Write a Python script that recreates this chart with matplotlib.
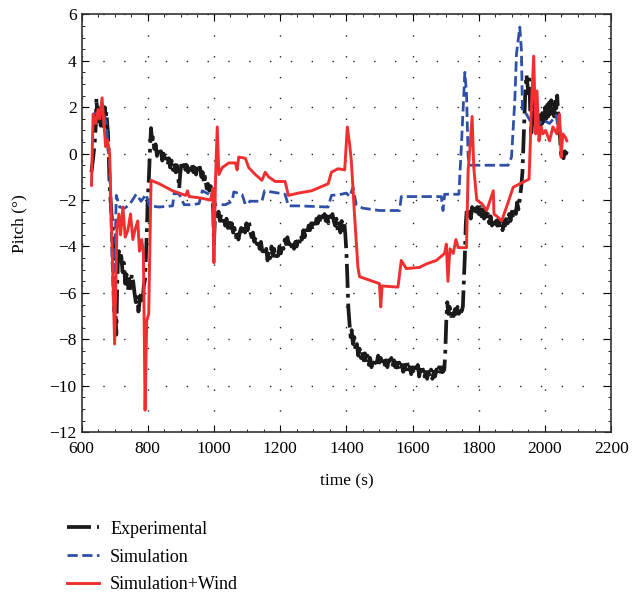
import matplotlib
matplotlib.use("Agg")
import matplotlib.pyplot as plt
from matplotlib.ticker import MultipleLocator

# experimental pitch (noisy record)
exp_time = [630, 635, 640, 643, 645, 648, 650, 653, 655, 658, 660, 663, 665, 668, 670, 673, 675, 678, 680, 683,
            685, 690, 695, 700, 705, 708, 710, 713, 716, 720, 724, 728, 732, 736, 740, 744, 748, 752, 756, 760,
            764, 768, 772, 776, 780, 784, 788, 792, 797, 800, 803, 807, 810, 813, 816, 820, 824, 828, 832, 836,
            840, 844, 848, 852, 856, 860, 864, 868, 872, 876, 880, 884, 888, 892, 895, 898, 902, 906, 910, 914,
            918, 922, 926, 930, 934, 938, 942, 946, 950, 954, 958, 962, 966, 970, 974, 978, 982, 986, 990, 995,
            998, 1000, 1003, 1006, 1010, 1014, 1018, 1022, 1026, 1030, 1034, 1038, 1042, 1046, 1050, 1054, 1058, 1062, 1066, 1070,
            1074, 1078, 1082, 1086, 1090, 1094, 1098, 1102, 1106, 1110, 1114, 1118, 1122, 1126, 1130, 1134, 1138, 1142, 1146, 1150,
            1154, 1158, 1162, 1166, 1170, 1174, 1178, 1182, 1186, 1190, 1194, 1198, 1202, 1206, 1210, 1214, 1218, 1222, 1226, 1230,
            1234, 1238, 1242, 1246, 1250, 1254, 1258, 1262, 1266, 1270, 1274, 1278, 1282, 1286, 1290, 1294, 1298, 1302, 1306, 1310,
            1314, 1318, 1322, 1326, 1330, 1334, 1338, 1342, 1346, 1350, 1354, 1358, 1362, 1366, 1370, 1374, 1378, 1382, 1386, 1390,
            1394, 1397, 1400, 1403, 1406, 1410, 1413, 1416, 1420, 1424, 1428, 1432, 1436, 1440, 1444, 1448, 1452, 1456, 1460, 1464,
            1468, 1472, 1476, 1480, 1484, 1488, 1492, 1496, 1500, 1504, 1508, 1512, 1516, 1520, 1524, 1528, 1532, 1536, 1540, 1544,
            1548, 1552, 1556, 1560, 1564, 1568, 1572, 1576, 1580, 1584, 1588, 1592, 1596, 1600, 1604, 1608, 1612, 1616, 1620, 1624,
            1628, 1632, 1636, 1640, 1644, 1648, 1652, 1656, 1660, 1664, 1668, 1672, 1676, 1680, 1684, 1688, 1692, 1696, 1699, 1702,
            1705, 1708, 1712, 1716, 1720, 1724, 1728, 1732, 1736, 1740, 1744, 1748, 1752, 1755, 1758, 1761, 1764, 1768, 1772, 1776,
            1780, 1784, 1788, 1792, 1796, 1800, 1804, 1808, 1812, 1816, 1820, 1824, 1828, 1832, 1836, 1840, 1844, 1848, 1852, 1856,
            1860, 1864, 1868, 1872, 1876, 1880, 1884, 1888, 1892, 1896, 1900, 1904, 1908, 1912, 1916, 1920, 1924, 1928, 1932, 1936,
            1940, 1944, 1947, 1950, 1953, 1956, 1959, 1962, 1965, 1968, 1971, 1974, 1977, 1980, 1983, 1986, 1989, 1992, 1995, 1998,
            2001, 2004, 2007, 2010, 2013, 2016, 2019, 2022, 2025, 2028, 2031, 2034, 2037, 2040, 2043, 2046, 2049, 2052, 2056, 2060,
            2064, 2066]
exp_pitch = [-0.8, -0.2, 0.5, 1.2, 2.4, 1.6, 2.1, 1.4, 1.7, 1.2, 2.0, 1.3, 1.6, 1.1, 2.0, 1.5, 1.8, 1.2, 0.9, -0.5,
             -1.4, -2.5, -3.4, -5.5, -7.8, -5.5, -4.6, -4.2, -4.8, -4.4, -5.1, -4.7, -5.6, -5.2, -5.9, -5.4, -5.8, -5.2, -5.5, -6.0,
             -6.4, -6.1, -6.8, -6.3, -6.0, -6.5, -5.7, -5.4, -3.5, -2.0, -1.2, 0.2, 1.1, 0.5, 0.7, 0.2, 0.4, -0.1, 0.2, -0.1,
             0.1, -0.3, 0.0, -0.4, -0.2, -0.5, -0.2, -0.6, -0.3, -0.7, -0.4, -0.8, -0.5, -1.0, -1.5, -0.9, -0.4, -0.6, -0.3, -0.7,
             -0.5, -0.8, -0.5, -0.7, -0.4, -0.8, -0.6, -0.9, -0.5, -0.8, -0.6, -1.0, -0.8, -1.3, -1.0, -1.5, -1.3, -1.6, -1.4, -1.7,
             -2.5, -3.9, -2.8, -2.4, -2.7, -2.5, -2.9, -2.6, -2.9, -2.7, -3.1, -2.8, -3.2, -2.9, -3.3, -3.0, -3.4, -3.2, -3.6, -3.3,
             -3.7, -3.4, -3.2, -3.5, -3.1, -3.4, -3.0, -3.3, -2.9, -3.4, -3.6, -3.4, -3.8, -3.6, -3.9, -3.7, -4.1, -3.8, -4.2, -4.0,
             -4.4, -4.1, -4.6, -4.2, -4.5, -4.0, -4.4, -4.1, -4.5, -4.2, -4.4, -4.0, -4.3, -3.9, -4.1, -3.7, -3.9, -3.6, -3.9, -3.7,
             -4.0, -3.8, -4.1, -3.8, -4.0, -3.7, -3.9, -3.5, -3.7, -3.3, -3.6, -3.2, -3.5, -3.1, -3.3, -3.0, -3.3, -2.9, -3.1, -2.8,
             -3.0, -2.7, -3.0, -2.7, -2.9, -2.6, -2.9, -2.7, -3.0, -2.7, -2.9, -2.6, -2.9, -3.1, -2.8, -3.3, -3.0, -3.4, -2.9, -3.3,
             -3.0, -3.5, -4.2, -5.3, -6.6, -7.4, -7.9, -7.6, -8.2, -7.9, -8.5, -8.2, -8.7, -8.4, -8.8, -8.5, -8.9, -8.6, -9.0, -8.7,
             -9.1, -8.8, -9.2, -8.9, -9.1, -8.8, -9.0, -8.7, -9.0, -8.8, -9.1, -8.8, -9.1, -8.9, -9.2, -8.9, -9.1, -8.8, -9.1, -8.9,
             -9.2, -9.0, -9.3, -9.0, -9.3, -9.1, -9.4, -9.1, -9.3, -9.0, -9.4, -9.2, -9.5, -9.2, -9.5, -9.2, -9.4, -9.1, -9.6, -9.3,
             -9.5, -9.3, -9.6, -9.4, -9.7, -9.4, -9.6, -9.3, -9.7, -9.4, -9.6, -9.3, -9.5, -9.2, -9.5, -9.2, -9.4, -9.3, -8.5, -7.2,
             -6.4, -6.9, -6.6, -7.0, -6.7, -7.0, -6.7, -6.9, -6.6, -6.9, -6.6, -6.8, -6.6, -5.5, -4.4, -3.0, -2.4, -2.8, -2.5, -2.8,
             -2.3, -2.6, -2.2, -2.5, -2.3, -2.6, -2.3, -2.7, -2.4, -2.8, -2.5, -2.9, -2.6, -3.0, -2.7, -3.1, -2.8, -3.2, -2.9, -3.1,
             -2.8, -3.2, -2.9, -3.3, -2.9, -3.1, -2.7, -3.0, -2.6, -2.9, -2.5, -2.8, -2.3, -2.6, -2.1, -2.4, -1.9, -1.5, -0.8, 0.8,
             2.4, 3.4, 3.0, 2.6, 3.2, 1.6, 0.9, 1.4, 2.1, 1.7, 2.5, 1.9, 1.3, 1.0, 1.5, 1.1, 1.7, 1.3, 1.9, 1.4,
             2.0, 1.5, 2.1, 1.6, 2.2, 1.7, 2.3, 1.8, 2.1, 1.6, 2.4, 1.9, 2.5, 1.7, 1.2, 0.6, -0.1, 0.0, -0.2, 0.1,
             0.0, 0.1]

# simulation without wind
sim_time = [635, 665, 675, 685, 691, 697, 705, 715, 730, 745, 765, 780, 795, 805, 835, 875, 880, 895, 910, 935,
            955, 965, 985, 1000, 1005, 1035, 1055, 1060, 1085, 1095, 1110, 1145, 1153, 1215, 1225, 1255, 1345, 1355, 1385, 1400,
            1410, 1420, 1430, 1450, 1500, 1561, 1566, 1632, 1687, 1692, 1697, 1740, 1748, 1758, 1763, 1768, 1773, 1824, 1889, 1899,
            1909, 1914, 1924, 1929, 1932, 1944, 1954, 1974, 1994, 2014, 2034, 2039]
sim_pitch = [1.7, 1.85, 1.3, -0.6, -4.0, -6.8, -1.8, -2.3, -2.35, -2.2, -1.75, -2.05, -1.75, -2.25, -2.3, -2.25, -1.7, -1.75, -2.2, -2.2,
             -2.15, -1.6, -1.75, -1.9, -2.2, -2.2, -2.05, -1.65, -1.75, -2.2, -2.05, -2.05, -1.6, -1.75, -2.25, -2.25, -2.3, -1.8, -1.75, -1.7,
             -1.85, -1.45, -2.2, -2.35, -2.45, -2.45, -1.85, -1.85, -1.85, -2.45, -1.75, -1.75, 0.45, 3.5, 2.6, -0.15, -0.5, -0.5, -0.5, -0.15,
             2.3, 4.3, 5.45, 4.45, 1.85, 1.7, 1.45, 1.15, 1.45, 1.3, 1.65, 1.15]

# simulation with wind
wind_time = [630, 635, 643, 650, 655, 662, 668, 673, 678, 685, 700, 707, 713, 718, 725, 732, 740, 748, 755, 763,
             770, 775, 782, 787, 792, 797, 803, 810, 835, 875, 915, 920, 925, 955, 990, 997, 1000, 1005, 1010, 1015,
             1025, 1045, 1065, 1070, 1075, 1095, 1105, 1125, 1145, 1155, 1165, 1185, 1215, 1225, 1255, 1295, 1345, 1355, 1375, 1395,
             1403, 1410, 1415, 1425, 1435, 1440, 1470, 1500, 1504, 1508, 1556, 1566, 1581, 1621, 1642, 1672, 1697, 1702, 1707, 1713,
             1723, 1731, 1738, 1763, 1768, 1773, 1780, 1785, 1794, 1809, 1824, 1844, 1846, 1859, 1869, 1884, 1904, 1924, 1952, 1956,
             1959, 1966, 1972, 1976, 1982, 1989, 1994, 2002, 2014, 2024, 2036, 2044, 2049, 2054, 2062, 2066]
wind_pitch = [-1.36, 1.7, 1.3, 1.9, 1.5, 2.4, 1.2, 0.3, 0.6, 0.0, -8.2, -3.2, -2.6, -3.5, -2.3, -3.6, -3.3, -2.6, -3.7, -3.2,
              -2.9, -4.2, -3.7, -4.3, -11.05, -7.2, -6.9, -1.15, -1.3, -1.6, -1.8, -1.6, -1.85, -1.9, -2.0, -1.5, -4.7, -1.0, 1.15, -0.9,
              -0.6, -0.4, -0.4, -0.7, -0.15, -0.2, -0.6, -0.9, -1.15, -0.8, -1.0, -1.2, -1.2, -1.8, -1.7, -1.6, -1.3, -0.8, -0.65, -0.7,
              1.15, 0.4, -0.3, -2.7, -4.9, -5.3, -5.45, -5.6, -6.6, -5.7, -5.75, -4.6, -4.95, -4.9, -4.75, -4.6, -4.3, -3.9, -5.5, -4.1,
              -4.3, -3.7, -4.05, -4.05, -0.7, 0.15, 1.6, -0.6, -2.0, -2.15, -2.45, -1.6, -2.6, -2.75, -2.9, -2.3, -1.45, -1.3, -1.1, 0.55,
              2.0, 4.2, 0.85, 2.7, 0.55, 1.15, 0.85, 1.0, 0.55, 1.15, 0.85, 1.7, -0.15, 0.85, 0.7, 0.55]

plt.rcParams['font.family'] = ['Liberation Serif', 'DejaVu Serif']
plt.rcParams['font.size'] = 12.5

fig = plt.figure(figsize=(6.32, 5.97), dpi=100)
ax = fig.add_axes([0.129, 0.276, 0.838, 0.7])

ax.plot(exp_time, exp_pitch, color='#1a1a1a', lw=2.7, ls='-.', label='Experimental')
ax.plot(sim_time, sim_pitch, color='#3050a8', lw=2.0, ls='--', label='Simulation')
ax.plot(wind_time, wind_pitch, color='#f03030', lw=2.1, ls='-', label='Simulation+Wind')

ax.set_xlim(600, 2200)
ax.set_ylim(-12, 6)
ax.xaxis.set_major_locator(MultipleLocator(200))
ax.xaxis.set_minor_locator(MultipleLocator(50))
ax.yaxis.set_major_locator(MultipleLocator(2))
ax.yaxis.set_minor_locator(MultipleLocator(0.5))
ax.tick_params(which='both', direction='in', top=True, right=True)
ax.tick_params(which='major', length=5)
ax.tick_params(which='minor', length=2.5)
ax.tick_params(axis='x', pad=6)
ax.grid(True, which='major', ls=(0, (1, 14)), color='#222222', lw=1.0)
for s in ax.spines.values():
    s.set_color('#333333')
    s.set_linewidth(1.2)

ax.set_xlabel('time (s)', labelpad=12)
ax.set_ylabel('Pitch (°)', labelpad=16)

ax.legend(loc='upper left', bbox_to_anchor=(0.08, 0.155), bbox_transform=fig.transFigure,
          frameon=False, handlelength=1.8, handletextpad=0.6, labelspacing=0.6, fontsize=13)

fig.savefig('out.png', dpi=100)
